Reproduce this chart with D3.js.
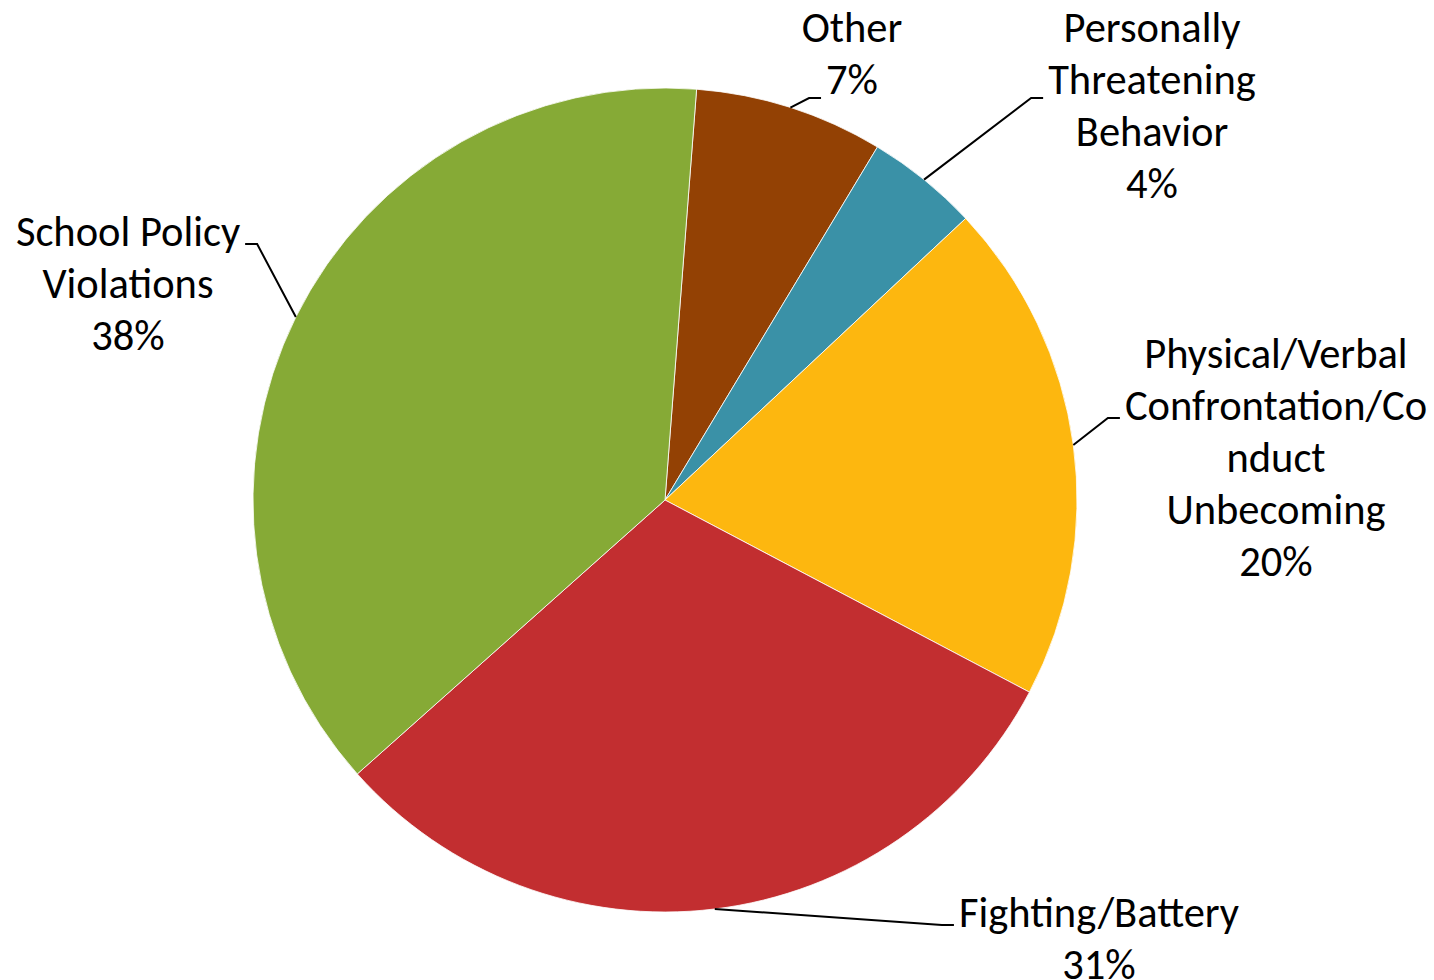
<!DOCTYPE html>
<html>
<head>
<meta charset="utf-8">
<script src="https://cdnjs.cloudflare.com/ajax/libs/d3/7.8.5/d3.min.js"></script>
<style>
  body { margin: 0; background: #fff; }
  svg { display: block; }
  text { font-family: Carlito, Calibri, Lato, sans-serif; fill: #000; }
</style>
</head>
<body>
<svg id="svg_id"></svg>
<script>
// data, clockwise from the first slice
var categories = ["Other", "Personally Threatening Behavior",
  "Physical/Verbal Confrontation/Conduct Unbecoming", "Fighting/Battery", "School Policy Violations"];
var values = [7.4, 4.4, 19.7, 30.7, 37.8];
var labelLines = [
  ["Other"],
  ["Personally", "Threatening", "Behavior"],
  ["Physical/Verbal", "Confrontation/Co", "nduct", "Unbecoming"],
  ["Fighting/Battery"],
  ["School Policy", "Violations"]
];
var colors = ["#934104", "#3a91a7", "#fdb70f", "#c22e30", "#86aa36"];

// label layout: centre x, first baseline, line the leader meets, side, leader dy
var labelLayout = [
  { x: 852, y: 42, line: 1, side: "left", dy: 4 },
  { x: 1152, y: 42, line: 1, side: "left", dy: 4 },
  { x: 1276, y: 368, line: 1, side: "left", dy: -2 },
  { x: 1099, y: 927, line: 0, side: "left", dy: -2 },
  { x: 128, y: 246, line: 0, side: "right", dy: -2 }
];

var width = 1434, height = 980;
var cx = 665, cy = 500, radius = 412;
var lineH = 52, fontSize = 42.5;

var svg = d3.select("#svg_id").attr("width", width).attr("height", height);

var startDeg = 4.4;
var pie = d3.pie().sort(null).value(function(d) { return d; })
  .startAngle(startDeg * Math.PI / 180)
  .endAngle((startDeg + 360) * Math.PI / 180);
var arcs = pie(values);

var arc = d3.arc().innerRadius(0).outerRadius(radius);

var g = svg.append("g").attr("transform", "translate(" + cx + "," + cy + ")");

g.selectAll("path.slice")
  .data(arcs)
  .enter().append("path")
  .attr("class", "slice")
  .attr("d", arc)
  .attr("fill", function(d, i) { return colors[i]; })
  .attr("stroke", "#fff")
  .attr("stroke-width", 0.8);

// labels
arcs.forEach(function(a, i) {
  var lay = labelLayout[i];
  var pct = Math.round(a.value) + "%";
  var lines = labelLines[i].concat([pct]);
  var t = svg.append("text")
    .attr("text-anchor", "middle")
    .style("font-size", fontSize + "px");
  var spans = lines.map(function(s, k) {
    return t.append("tspan").attr("x", lay.x).attr("y", lay.y + k * lineH).text(s);
  });

  // leader line from slice mid-angle on the rim to the label edge
  var mid = (a.startAngle + a.endAngle) / 2;
  var sx = cx + radius * Math.sin(mid), sy = cy - radius * Math.cos(mid);
  var len = spans[lay.line].node().getComputedTextLength();
  var ey = lay.y + lay.line * lineH + lay.dy;
  var ex, bx;
  if (lay.side === "left") {
    ex = lay.x - len / 2 - 5;
    bx = ex - 12;
  } else {
    ex = lay.x + len / 2 + 5;
    bx = ex + 12;
  }
  svg.append("path")
    .attr("d", d3.line()([[sx, sy], [bx, ey], [ex, ey]]))
    .attr("fill", "none")
    .attr("stroke", "#000")
    .attr("stroke-width", 2);
});
</script>
</body>
</html>
